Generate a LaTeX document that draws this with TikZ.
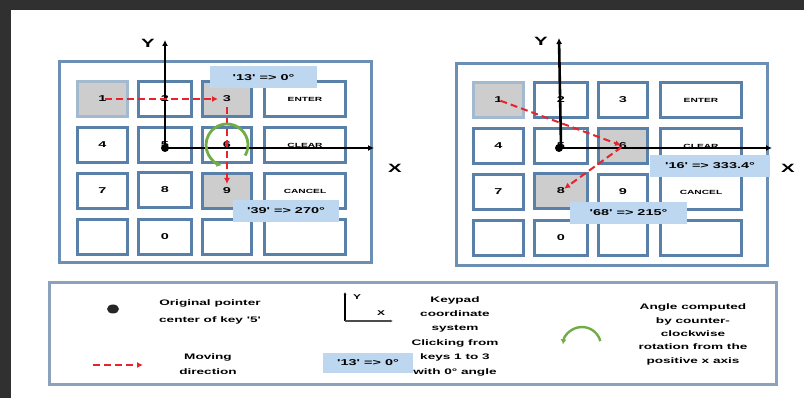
\documentclass[tikz,border=0pt]{standalone}
\usepackage{fontspec}
\setmainfont{Liberation Sans}
\newfontfamily\widesans[FakeStretch=1.7]{Liberation Sans}
\usetikzlibrary{arrows.meta, positioning, calc}
\definecolor{keyblue}{RGB}{88,128,168}
\definecolor{panelblue}{RGB}{108,144,180}
\definecolor{tagblue}{RGB}{190,215,240}
\definecolor{pressgray}{RGB}{205,205,205}
\definecolor{movered}{RGB}{232,35,45}
\definecolor{rotgreen}{RGB}{112,173,71}
\definecolor{framegray}{RGB}{48,48,48}
\definecolor{legendgray}{RGB}{140,162,188}

\begin{document}
\begin{tikzpicture}[x=1pt,y=-1pt,
  % keys of the pad, pressed ones get a grey fill
  key/.style={draw=keyblue,line width=2.6pt,fill=white,inner sep=0pt,
    minimum height=35pt,font=\widesans\fontsize{8.5}{9}\selectfont\bfseries},
  kw81/.style={font=\widesans\fontsize{6}{7}\selectfont\bfseries},
  pressed L1/.style={fill=pressgray,draw=keyblue!55}, pressed L3/.style={fill=pressgray},
  pressed L9/.style={fill=pressgray}, pressed R1/.style={fill=pressgray,draw=keyblue!55},
  pressed R6/.style={fill=pressgray}, pressed R8/.style={fill=pressgray},
  panel/.style={draw=panelblue,line width=2.8pt},
  tag/.style={fill=tagblue,inner sep=0pt,minimum height=22pt,
    font=\widesans\fontsize{8.5}{9}\selectfont\bfseries},
  axis/.style={line width=2.6pt,-{Latex[length=6pt,width=6pt]}},
  axlabel/.style={font=\widesans\fontsize{12}{12}\selectfont\bfseries},
  move/.style={draw=movered,line width=2pt,dash pattern=on 7pt off 4pt,
    -{Latex[length=6pt,width=6pt]}},
  rot/.style={draw=rotgreen,line width=2.8pt,-{Latex[length=5pt,width=6pt]}},
  legtext/.style={align=center,font=\widesans\fontsize{8}{14.4}\selectfont\bfseries}]

  \useasboundingbox (0,0) rectangle (804,398);
  \fill[framegray] (0,0) rectangle (804,398);
  \fill[white] (11,10) rectangle (804,398);

  % the two keypads
  \draw[panel] (59.5,61.5) rectangle (371.5,262.5);
  \draw[panel] (456.5,63.5) rectangle (767.5,265.5);
  \foreach \side/\dx/\dy in {L/0/0,R/396/1}{
    \foreach \n/\x/\y/\w/\txt in {1/102.5/99/50/1, 2/165/99/53/2, 3/227/99/49/3,
        ent/305/99/81/ENTER, 4/102.5/145/50/4, 5/165/145/53/5, 6/227/145/49/6,
        clr/305/145/81/CLEAR, 7/102.5/191/50/7, 8/165/190/53/8, 9/227/191/49/9,
        cnl/305/191/81/CANCEL, b1/102.5/237/50/{}, 0/165/237/53/0,
        b2/227/237/49/{}, b3/305/237/81/{}}
      \node[key,minimum width=\w pt,kw\w/.try,pressed \side\n/.try]
        (\side\n) at ({\x+\dx},{\y+\dy}) {\txt};
  }

  % axes through key 5
  \coordinate (Ly) at (165,40);
  \coordinate (Lx) at (374,148);
  \coordinate (Ry) at (559,38);
  \coordinate (Rx) at (772,148);
  \draw[axis] (L5.center) -- (Ly);
  \draw[axis] ($(L5.center)+(0,3)$) -- (Lx);
  \draw[axis] (R5.center) -- (Ry);
  \draw[axis] ($(R5.center)+(-2,2)$) -- (Rx);
  \fill (L5.center) ++(0,3) circle (4pt);
  \fill (R5.center) ++(-2,2) circle (4pt);
  \node[axlabel] (Lylab) at (148,43) {Y};
  \node[axlabel] (Lxlab) at (395,168) {X};
  \node[axlabel] (Rylab) at (541,41) {Y};
  \node[axlabel] (Rxlab) at (788,168) {X};

  % moves and angles
  \draw[move,shorten <=2pt,shorten >=9pt] (L1.center) -- (L3.center);
  \draw[move,shorten <=8pt,shorten >=7pt] (L3.center) -- (L9.center);
  \draw[rot] ([shift={(30:21)}]L6.center) arc[start angle=30,end angle=-255,radius=21];
  \draw[move,shorten <=2pt,shorten >=2pt] (R1.center) -- (R6.center);
  \draw[move,shorten <=2pt,shorten >=4pt] (R6.center) -- (R8.center);
  \node[tag,minimum width=107pt] (tag13) at (263.5,77.5) {'13' => 0°};
  \node[tag,minimum width=106pt] (tag39) at (286,211) {'39' => 270°};
  \node[tag,minimum width=120pt] (tag16) at (710,166) {'16' => 333.4°};
  \node[tag,minimum width=117pt] (tag68) at (628.5,213) {'68' => 215°};

  % legend
  \draw[draw=legendgray,line width=3pt] (49.5,282.5) rectangle (776.5,384.5);
  \fill[black!85] (113,309) ellipse (6pt and 4.5pt);
  \node[legtext,font=\widesans\fontsize{8}{17}\selectfont\bfseries] (lgdot) at (210,311.5)
    {Original pointer\\center of key '5'};
  \coordinate (mvA) at (93,365);
  \coordinate (mvB) at (143,365);
  \draw[move] (mvA) -- (mvB);
  \node[legtext,font=\widesans\fontsize{8}{15}\selectfont\bfseries] (lgmove) at (208,364.5)
    {Moving\\direction};
  \coordinate (ax0) at (345,321);
  \coordinate (axY) at (345,292);
  \coordinate (axX) at (393,321);
  \draw[line width=2pt,-{Latex[length=3pt,width=3pt]}] (ax0) -- (axY);
  \draw[line width=1.4pt,black!70,-{Latex[length=3pt,width=3pt]}] (ax0) -- (axX);
  \node[font=\widesans\fontsize{7}{7}\selectfont\bfseries] (axYlab) at (357,297) {Y};
  \node[font=\widesans\fontsize{7}{7}\selectfont\bfseries] (axXlab) at (381,313) {X};
  \node[tag,minimum width=90pt,minimum height=20pt] (lgtag) at (368,363) {'13' => 0°};
  \node[legtext] (lgpad) at (455,336)
    {Keypad\\coordinate\\system\\Clicking from\\keys 1 to 3\\with 0° angle};
  \draw[rot,line width=2.4pt] ([shift={(-15:19)}]582,346) arc[start angle=-15,end angle=-175,radius=19];
  \node[legtext,font=\widesans\fontsize{8}{13.3}\selectfont\bfseries] (lgrot) at (693,334.5)
    {Angle computed\\by counter-\\clockwise\\rotation from the\\positive x axis};

\end{tikzpicture}
\end{document}
